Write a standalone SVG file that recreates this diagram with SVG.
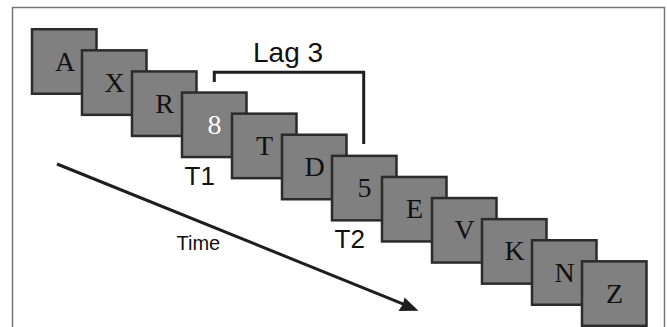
<svg xmlns="http://www.w3.org/2000/svg" width="667" height="327" viewBox="0 0 667 327">
<style>
.box{fill:#808080;stroke:#2b2b2b;stroke-width:2.5}
.let{font-family:"Liberation Serif","Times New Roman",serif;font-size:28px;fill:#111;text-anchor:middle}
.wht{fill:#ffffff}
.lbl{font-family:"Liberation Sans",Arial,Helvetica,sans-serif;fill:#111}
.ln{fill:none;stroke:#1e1e1e;stroke-width:3}
</style>
<rect width="667" height="327" fill="#ffffff"/>
<rect x="12.5" y="7.5" width="652" height="340" fill="none" stroke="#777777" stroke-width="1.5"/>
<g id="items">
<g id="item-A"><rect class="box" x="32" y="29.25" width="64.5" height="64.5"/><text class="let" x="65" y="70.5">A</text></g>
<g id="item-X"><rect class="box" x="82" y="50.35" width="64.5" height="64.5"/><text class="let" x="114.5" y="91.6">X</text></g>
<g id="item-R"><rect class="box" x="132" y="71.45" width="64.5" height="64.5"/><text class="let" x="164.5" y="112.7">R</text></g>
<g id="item-8"><rect class="box" x="182" y="92.55" width="64.5" height="64.5"/><text class="let wht" x="214.5" y="133.8">8</text></g>
<g id="item-T"><rect class="box" x="232" y="113.65" width="64.5" height="64.5"/><text class="let" x="264.5" y="154.9">T</text></g>
<g id="item-D"><rect class="box" x="282" y="134.75" width="64.5" height="64.5"/><text class="let" x="314.5" y="176">D</text></g>
<g id="item-5"><rect class="box" x="332" y="155.85" width="64.5" height="64.5"/><text class="let" x="364.5" y="197.1">5</text></g>
<g id="item-E"><rect class="box" x="382" y="176.95" width="64.5" height="64.5"/><text class="let" x="414.5" y="218.2">E</text></g>
<g id="item-V"><rect class="box" x="432" y="198.05" width="64.5" height="64.5"/><text class="let" x="464.5" y="239.3">V</text></g>
<g id="item-K"><rect class="box" x="482" y="219.15" width="64.5" height="64.5"/><text class="let" x="514.5" y="260.4">K</text></g>
<g id="item-N"><rect class="box" x="532" y="240.25" width="64.5" height="64.5"/><text class="let" x="564.5" y="281.5">N</text></g>
<g id="item-Z"><rect class="box" x="582" y="261.35" width="64.5" height="64.5"/><text class="let" x="614.5" y="302.6">Z</text></g>
</g>
<g id="connectors">
<polyline class="ln" points="214.3,82 214.3,72.3 363.7,72.3 363.7,144"/>
<line class="ln" x1="57" y1="164" x2="404" y2="304.3"/>
<polygon points="418.5,310.8 398.5,311 403,304 404.5,297.5" fill="#1e1e1e"/>
</g>
<g id="labels">
<text class="lbl" x="253" y="61.7" font-size="28">Lag 3</text>
<text class="lbl" x="184.5" y="185" font-size="26">T1</text>
<text class="lbl" x="334.5" y="248" font-size="26">T2</text>
<text class="lbl" x="176.5" y="250" font-size="20">Time</text>
</g>
</svg>
